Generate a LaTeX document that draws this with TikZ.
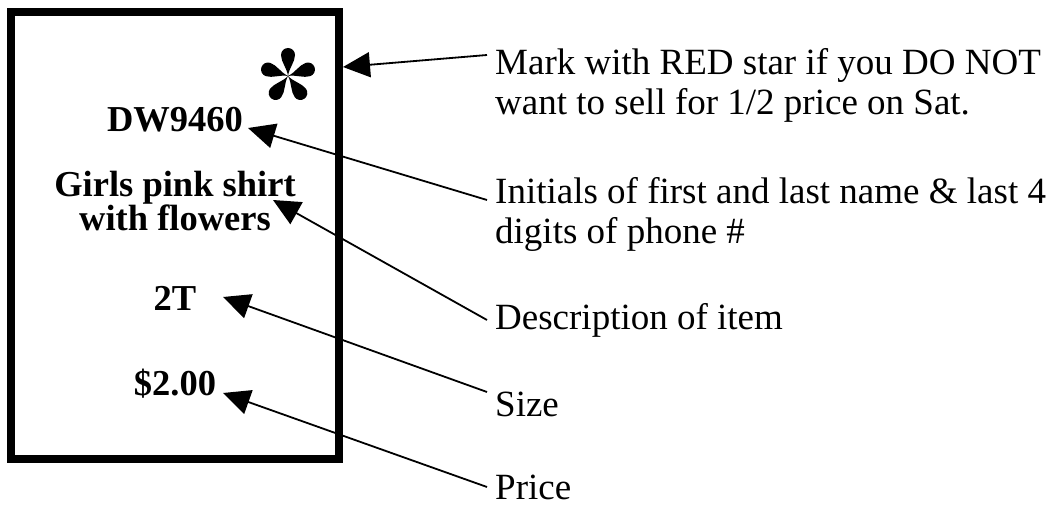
\documentclass[tikz,border=0pt]{standalone}
\usepackage{fontspec}
\setmainfont{Liberation Serif}
\usetikzlibrary{arrows.meta}
\tikzset{
  tagtext/.style={font=\fontsize{36.5}{34}\selectfont\bfseries, inner sep=0pt, align=center, anchor=base},
  notetext/.style={font=\fontsize{37}{40}\selectfont, inner sep=0pt, align=left, anchor=base west},
  pointer/.style={line width=1.8pt, -{Triangle[length=27pt,width=25pt]}}
}
% one teardrop spoke of the star, pointing up
\newcommand\starpetal[1]{
  \fill[rotate=#1] (0,0) .. controls (-1,-8) and (-7,-14) .. (-7,-21)
    arc[start angle=180, end angle=360, radius=7] .. controls (7,-14) and (1,-8) .. (0,0);
}
\begin{document}
\begin{tikzpicture}[x=1pt, y=-1pt]
\useasboundingbox (0,0) rectangle (1056,505);

% the tag
\draw[line width=8pt] (11,12) rectangle (339,459);
\begin{scope}[shift={(288,76)}]
  \foreach \a in {0,72,...,288}
  {
    \starpetal{\a}
  }
\end{scope}
\node[tagtext] (code) at (175,132) {DW9460};
\node[tagtext] (desc1) at (175,196) {Girls pink shirt};
\node[tagtext] (desc2) at (175,230) {with flowers};
\node[tagtext] (size) at (175,310) {2T};
\node[tagtext] (price) at (175,395) {\$2.00};

% explanations (base anchor is the last line)
\node[notetext] (markTxt) at (495,115) {Mark with RED star if you DO NOT\\want to sell for 1/2 price on Sat.};
\node[notetext] (initTxt) at (495,243) {Initials of first and last name \& last 4\\digits of phone \#};
\node[notetext] (descTxt) at (495,329) {Description of item};
\node[notetext] (sizeTxt) at (495,416) {Size};
\node[notetext] (priceTxt) at (495,499) {Price};

\coordinate (markEnd) at (487,55);
\coordinate (initEnd) at (487,200);
\coordinate (descEnd) at (487,320);
\coordinate (sizeEnd) at (487,392);
\coordinate (priceEnd) at (487,487);

\coordinate (starTip) at (343,67);
\coordinate (codeTip) at (248,128);
\coordinate (descTip) at (273,200);
\coordinate (sizeTip) at (223,297);
\coordinate (priceTip) at (223,393);

\draw[pointer] (markEnd) -- (starTip);
\draw[pointer] (initEnd) -- (codeTip);
\draw[pointer] (descEnd) -- (descTip);
\draw[pointer] (sizeEnd) -- (sizeTip);
\draw[pointer] (priceEnd) -- (priceTip);
\end{tikzpicture}
\end{document}
